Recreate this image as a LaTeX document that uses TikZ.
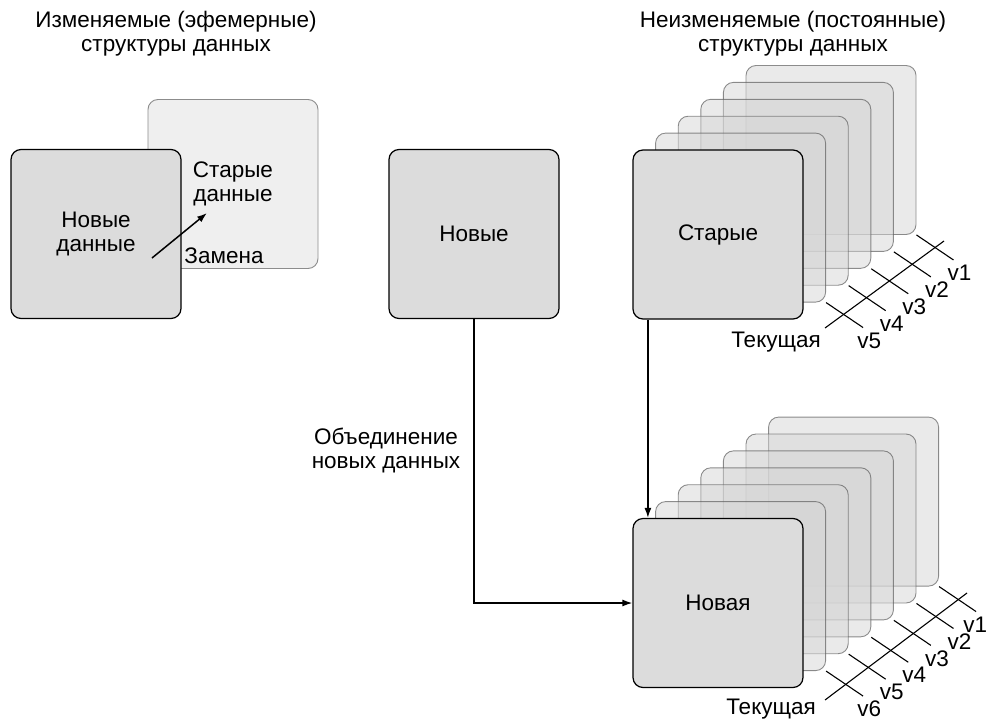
\documentclass[tikz,border=0pt]{standalone}
\usepackage{fontspec}
\setmainfont{Liberation Sans}
\usetikzlibrary{arrows.meta,calc}

\definecolor{frontfill}{HTML}{DCDCDC}
\definecolor{layerfill}{HTML}{D6D6D6}
\definecolor{layerline}{HTML}{5E5E5E}
\definecolor{oldfill}{HTML}{EFEFEF}
\definecolor{oldline}{HTML}{8C8C8C}

\begin{document}
\begin{tikzpicture}[x=1pt,y=-1pt,
  txt/.style={font=\fontsize{22.5}{24}\selectfont, inner sep=0pt, align=center},
  card/.style={txt, rounded corners=10pt, minimum width=170pt, minimum height=169pt, line width=0.9pt},
  frontcard/.style={card, fill=frontfill, draw=black, line width=1.2pt},
  layer/.style={card, fill=layerfill, fill opacity=0.5, draw=layerline, draw opacity=0.7},
  oldcard/.style={card, fill=oldfill, draw=oldline},
  link/.style={line width=1.5pt, -{Latex[length=10pt,width=7pt]}},
  tickline/.style={line width=1.1pt},
  ver/.style={txt, anchor=north west},
]
\useasboundingbox (0,0) rectangle (990,720);

% titles
\node[txt] (ttlmut) at (176,34) {Изменяемые (эфемерные)\\структуры данных};
\node[txt] (ttlimm) at (793,34) {Неизменяемые (постоянные)\\структуры данных};

% mutable: new data overwrites old data in place
\node[oldcard] (olddata) at (233,184) {Старые\\данные};
\node[frontcard] (newdata) at (96,234) {Новые\\данные};
\node[txt] (swaplbl) at (224,256) {Замена};
\coordinate (swapfrom) at (152,258);
\coordinate (swapto) at (207,213);
\draw[link] (swapfrom) -- (swapto);

% incoming data
\node[frontcard] (newsrc) at (474,234) {Новые};

% persistent: stack of old versions
\foreach \j in {5,...,1}{
  \node[layer] (oldv\j) at ({718+22.6*\j},{234.5-16.9*\j}) {};
}
\node[frontcard] (oldver) at (718,234.5) {Старые};
\coordinate (oldaxisA) at (825,328);
\coordinate (oldaxisB) at (944,241);
\draw[tickline] (oldaxisA) -- (oldaxisB);
\foreach \j in {1,...,5}{
  \pgfmathtruncatemacro{\v}{6-\j}
  \draw[tickline] (oldv\j.south east) -- ++(37,25) coordinate (oldtk\j);
  \node[ver] (oldlbl\j) at ($(oldtk\j)+(-6,5)$) {v\v};
}
\node[txt, anchor=east] (oldcur) at (821,342) {Текущая};

% persistent: stack after merging
\foreach \j in {6,...,1}{
  \node[layer] (newv\j) at ({718+22.6*\j},{603-16.9*\j}) {};
}
\node[frontcard] (newver) at (718,603) {Новая};
\coordinate (newaxisA) at (825,700);
\coordinate (newaxisB) at (967,593);
\draw[tickline] (newaxisA) -- (newaxisB);
\foreach \j in {1,...,6}{
  \pgfmathtruncatemacro{\v}{7-\j}
  \pgfmathsetmacro{\dx}{\j==6 ? -13 : -6}
  \draw[tickline] (newv\j.south east) -- ++(37,25) coordinate (newtk\j);
  \node[ver] (newlbl\j) at ($(newtk\j)+(\dx,5)$) {v\v};
}
\node[txt, anchor=east] (newcur) at (816,709) {Текущая};

% connectors
\draw[link] ([xshift=15.5pt]oldver.south west) -- ([xshift=15.5pt]newver.north west);
\draw[link] (newsrc.south) |- (newver.west);
\node[txt] (mergelbl) at (386,450) {Объединение\\новых данных};
\end{tikzpicture}
\end{document}
